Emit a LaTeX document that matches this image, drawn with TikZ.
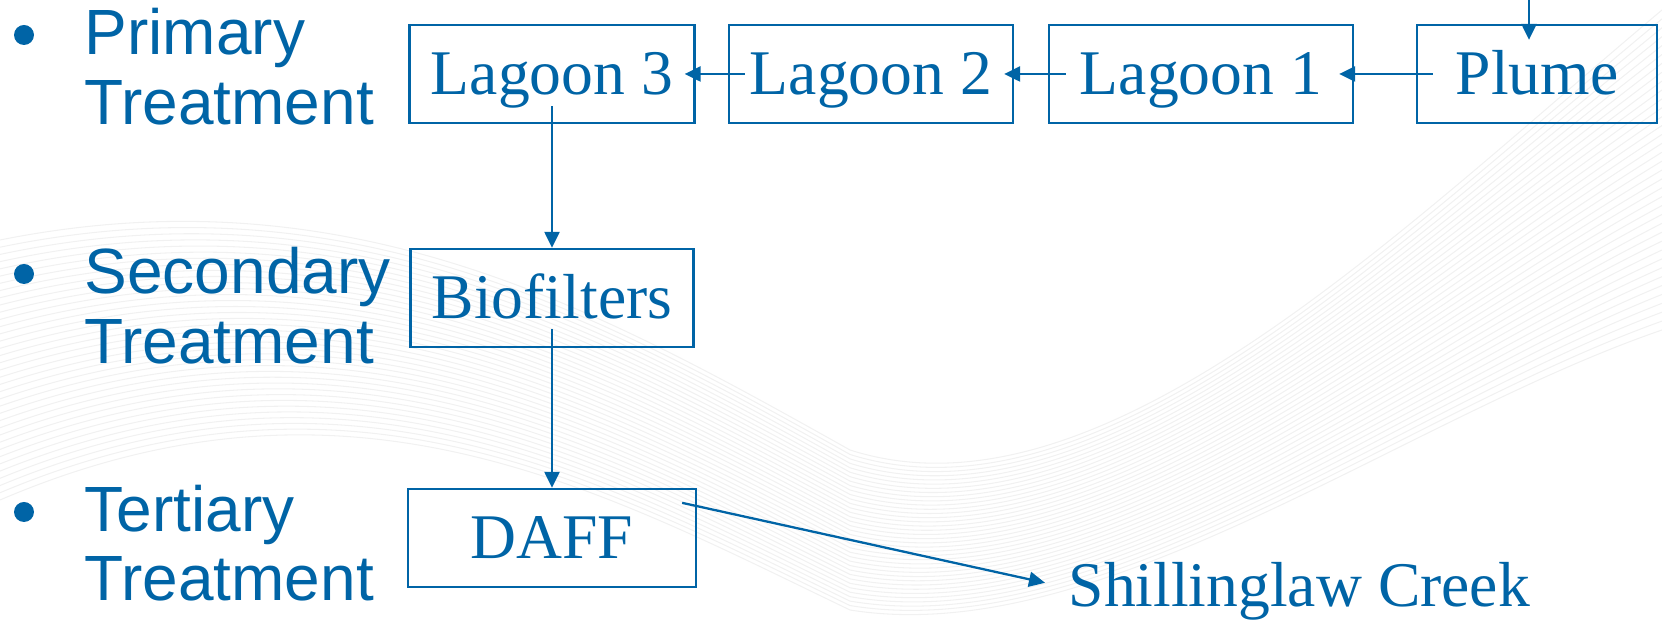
\documentclass[tikz,border=0pt]{standalone}
\usepackage{fontspec}
\setmainfont{Liberation Serif}
\setsansfont{Liberation Sans}
\usetikzlibrary{arrows.meta}
\pgfdeclarelayer{bg}
\pgfsetlayers{bg,main}
\definecolor{tblue}{RGB}{0,100,166}

\tikzset{
    box/.style={draw=tblue, line width=0.65pt, text=tblue, inner sep=0pt,
        minimum height=0.98cm, text height=0.42cm, text depth=0pt,
        font=\rmfamily\fontsize{18.1}{20}\selectfont},
    flow/.style={draw=tblue, line width=0.65pt, -{Triangle[length=0.16cm,width=0.15cm]}},
    lbl/.style={anchor=base west, inner sep=0pt, text=tblue,
        font=\sffamily\fontsize{18.2}{20}\selectfont},
    dot/.style={circle, fill=tblue, draw=none, inner sep=0pt, minimum size=0.2cm},
    swirl/.style={draw=gray!11, line width=0.3pt},
}

\begin{document}
\begin{tikzpicture}
    \useasboundingbox (0cm, 0cm) rectangle (16.62cm, 6.21cm);

    % stages
    \node (b1) [dot] at (0.24cm, 5.86cm) {};
    \node (b2) [dot] at (0.24cm, 3.47cm) {};
    \node (b3) [dot] at (0.24cm, 1.09cm) {};
    \node (pri) [lbl] at (0.84cm, 5.66cm) {Primary};
    \node (pritr) [lbl] at (0.84cm, 4.96cm) {Treatment};
    \node (sec) [lbl] at (0.84cm, 3.27cm) {Secondary};
    \node (sectr) [lbl] at (0.84cm, 2.57cm) {Treatment};
    \node (ter) [lbl] at (0.84cm, 0.89cm) {Tertiary};
    \node (tertr) [lbl] at (0.84cm, 0.20cm) {Treatment};

    % plant
    \node (lagoon3) [box, minimum width=2.85cm] at (5.52cm, 5.47cm) {Lagoon 3};
    \node (lagoon2) [box, minimum width=2.84cm] at (8.71cm, 5.47cm) {Lagoon 2};
    \node (lagoon1) [box, minimum width=3.04cm] at (12.01cm, 5.47cm) {Lagoon 1};
    \node (plume) [box, minimum width=2.40cm] at (15.37cm, 5.47cm) {Plume};
    \node (bio) [box, minimum width=2.83cm] at (5.52cm, 3.23cm) {Biofilters};
    \node (daff) [box, minimum width=2.88cm] at (5.52cm, 0.83cm) {DAFF};
    \node (creek) [lbl, font=\rmfamily\fontsize{18.1}{20}\selectfont] at (10.68cm, 0.14cm) {Shillinglaw Creek};

    \coordinate (feed) at (15.29cm, 6.21cm);

    \draw[flow, shorten >=-0.16cm] (feed) -- (feed |- plume.north);
    \draw[flow, shorten <=-0.17cm, shorten >=-0.15cm] (plume) -- (lagoon1);
    \draw[flow, shorten <=-0.18cm, shorten >=-0.10cm] (lagoon1) -- (lagoon2);
    \draw[flow, shorten <=-0.17cm, shorten >=-0.11cm] (lagoon2) -- (lagoon3);
    \draw[flow, shorten <=-0.18cm] (lagoon3) -- (bio);
    \draw[flow, shorten <=-0.19cm] (bio) -- (daff);
    \draw[flow] ([shift={(-0.15cm,-0.15cm)}]daff.north east) -- ([shift={(-0.23cm,0.09cm)}]creek.west);

    \begin{pgfonlayer}{bg}
        \foreach \k in {0,...,36} {
            \pgfmathsetmacro{\t}{\k/36}
            \draw[swirl] (0, {3.81-2.6*\t})
                .. controls (3.5, {4.51-1.8*\t}) and (6.0, {3.11-1.8*\t}) .. (8.5, {1.71-1.6*\t})
                .. controls (11.0, {0.91-1.2*\t}) and (14.0, {3.91-1.9*\t}) .. (16.62, {6.11-3.2*\t});
        }
    \end{pgfonlayer}
\end{tikzpicture}
\end{document}
